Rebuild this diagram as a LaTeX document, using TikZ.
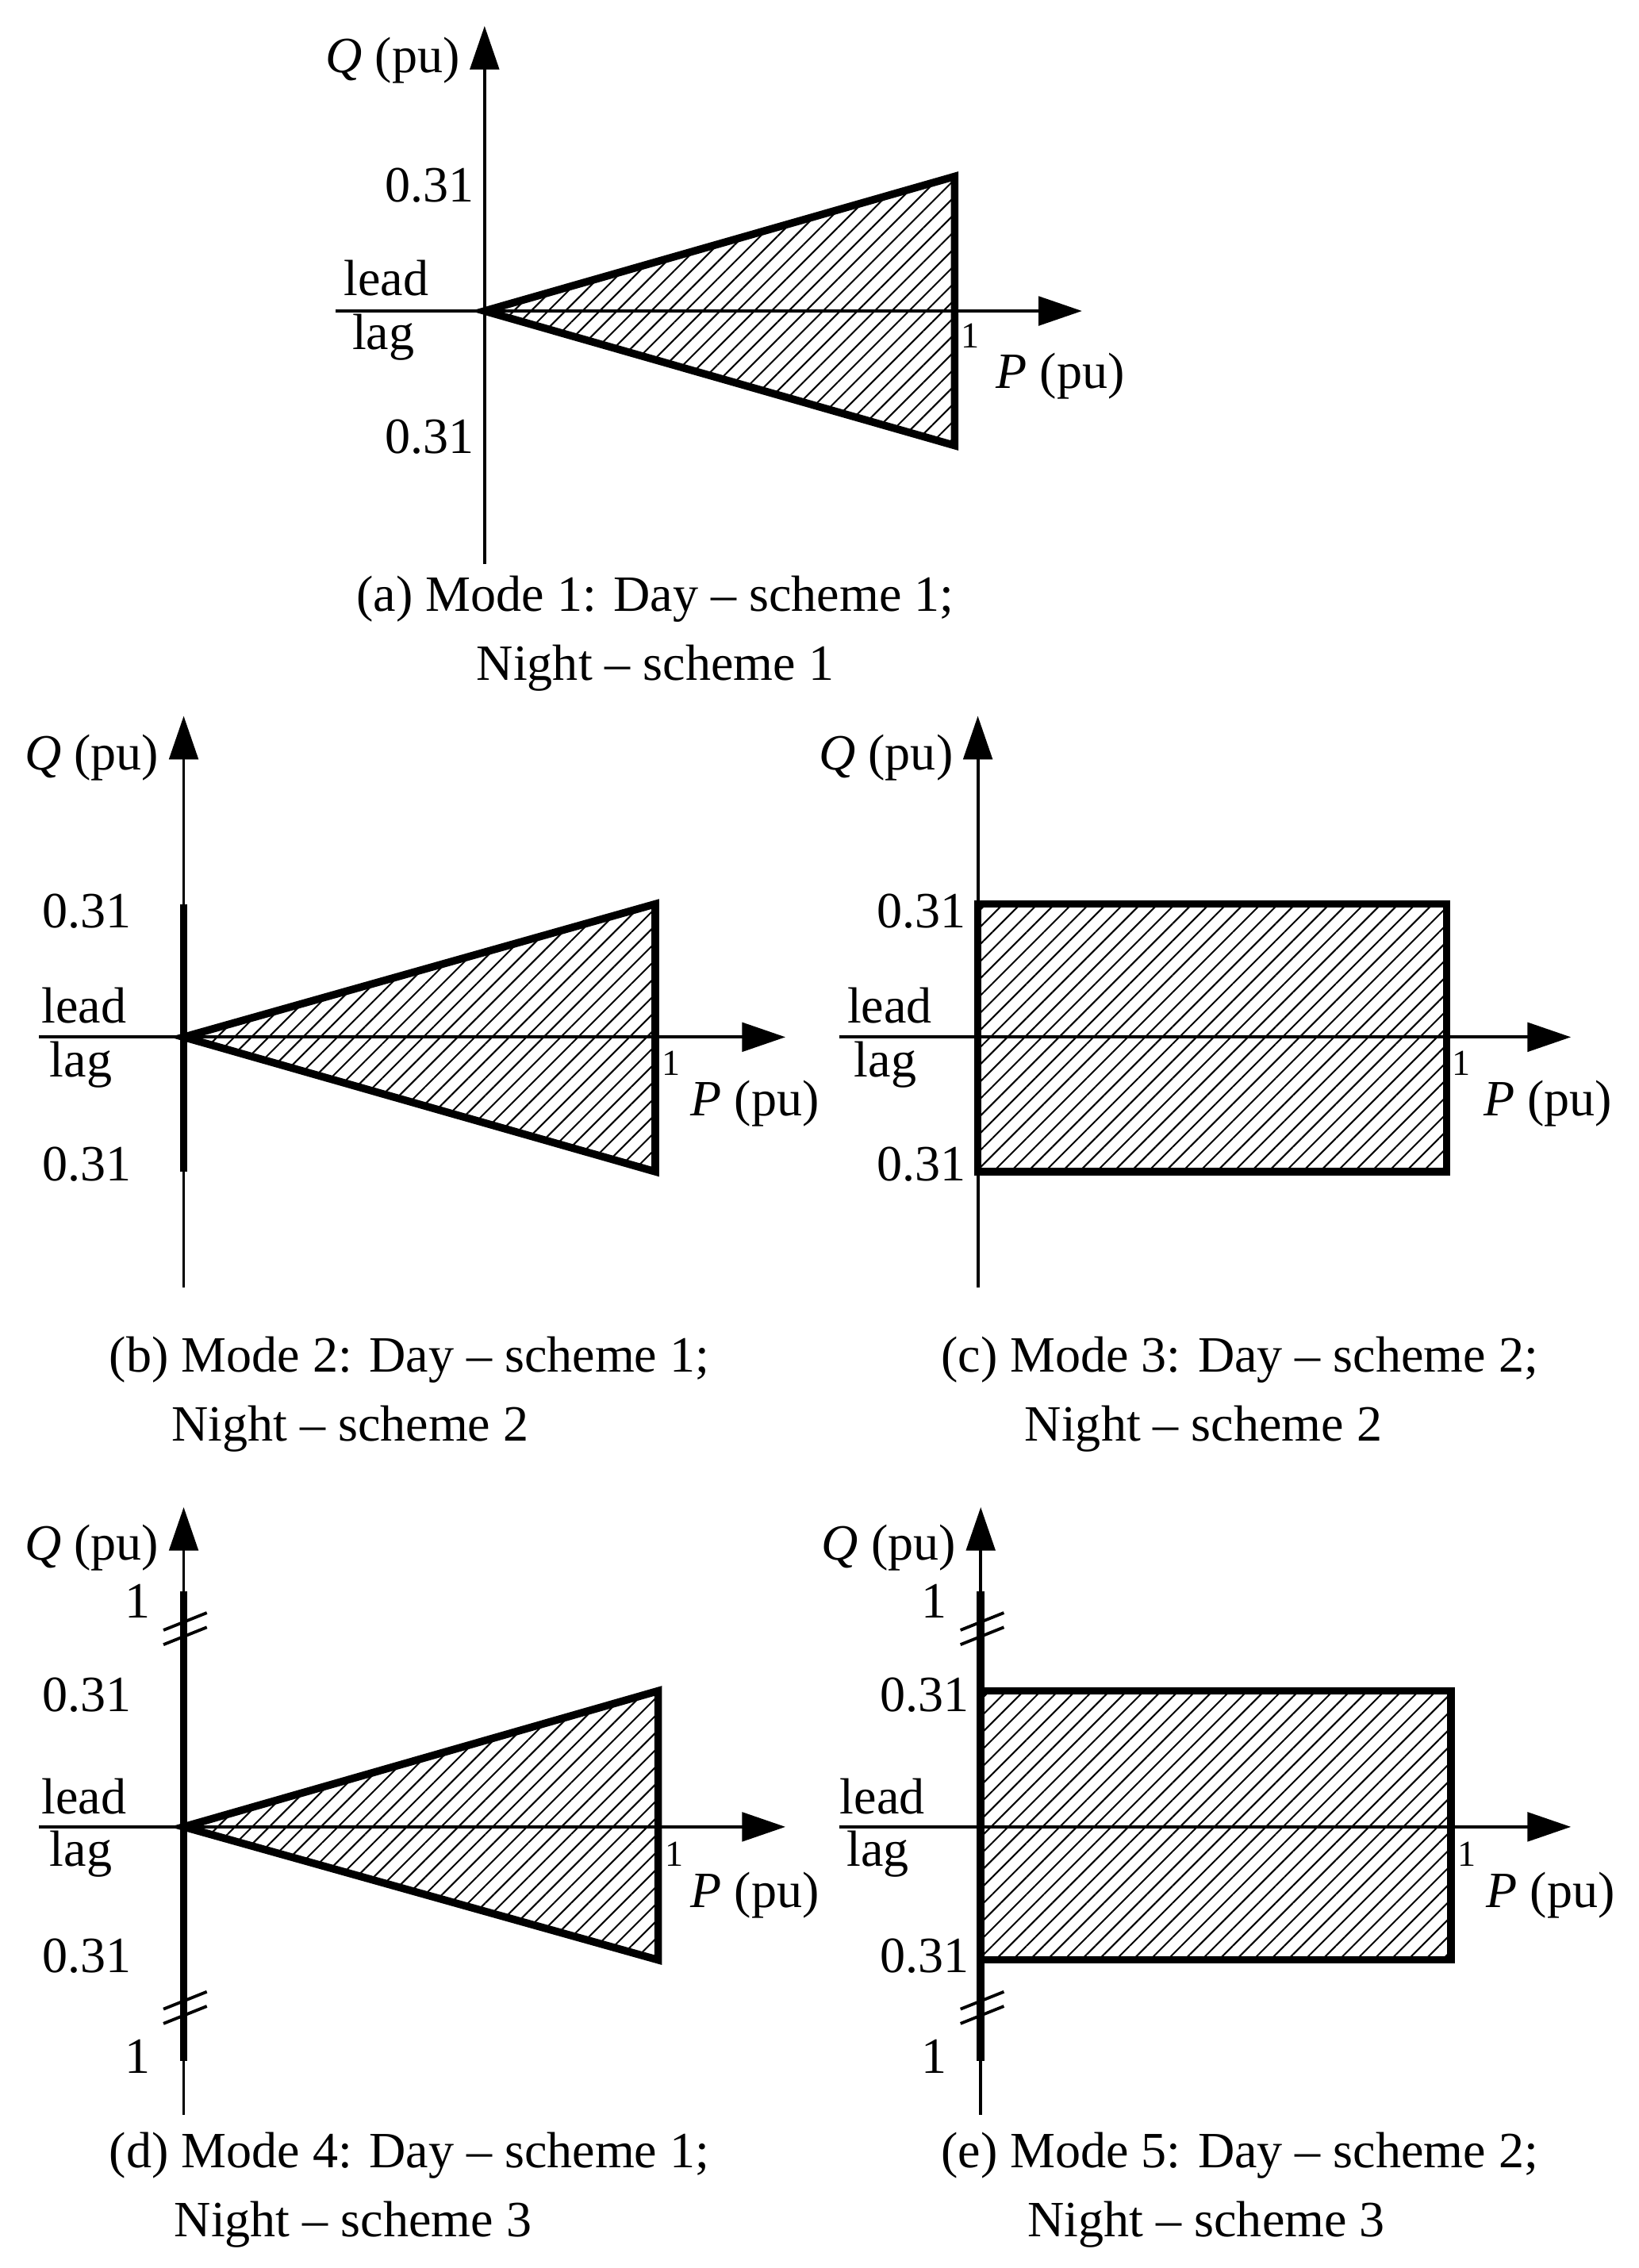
\documentclass[tikz,border=0pt]{standalone}
\usepackage{fontspec}
\setmainfont{Liberation Serif}
\usetikzlibrary{arrows.meta,patterns.meta}
\tikzset{
  ax/.style={line width=3pt,-{Triangle[length=1.5cm,width=1cm]}},
  axl/.style={line width=3pt},
  thick shape/.style={line width=7.5pt,line join=miter,pattern={Lines[angle=45,distance=0.42cm,line width=1.6pt]}},
  bold axis/.style={line width=7.5pt},
  lbl/.style={font=\fontsize{50}{60}\selectfont,inner sep=0pt},
  small/.style={font=\fontsize{36}{40}\selectfont,inner sep=0pt},
  brk/.style={line width=3pt}
}
\begin{document}
\begin{tikzpicture}[x=0.05cm,y=-0.05cm]
\useasboundingbox (0,0) rectangle (1133,1568);
% ---------- panel a
\coordinate (oa) at (335,215);
\coordinate (ya0) at (335,390); \coordinate (ya1) at (335,18);
\coordinate (xa0) at (232,215); \coordinate (xa1) at (748,215);
\draw[thick shape] (oa) -- (660,122) -- (660,308) -- cycle;
\draw[ax] (ya0) -- (ya1);
\draw[ax] (xa0) -- (xa1);
\node[lbl,anchor=east] (qa) at (318,42) {\textit{Q} (pu)};
\node[lbl] (a31u) at (297,128) {0.31};
\node[lbl] (a31d) at (297,302) {0.31};
\node[lbl] (alead) at (267,192) {lead};
\node[lbl] (alag) at (265,233) {lag};
\node[small] (a1) at (671,232) {1};
\node[lbl] (apu) at (733,260) {\textit{P} (pu)};
\node[lbl] (capa1) at (453,414) {(a) Mode 1: Day – scheme 1;};
\node[lbl] (capa2) at (453,462) {Night – scheme 1};
% ---------- panel b
\coordinate (ob) at (127,717);
\draw[thick shape] (ob) -- (453,625) -- (453,810) -- cycle;
\draw[bold axis] (127,625) -- (127,810);
\draw[ax] (127,890) -- (127,495);
\draw[ax] (27,717) -- (543,717);
\node[lbl,anchor=east] (qb) at (110,524) {\textit{Q} (pu)};
\node[lbl] (b31u) at (60,630) {0.31};
\node[lbl] (b31d) at (60,805) {0.31};
\node[lbl] (blead) at (58,695) {lead};
\node[lbl] (blag) at (56,736) {lag};
\node[small] (b1) at (464,735) {1};
\node[lbl] (bpu) at (522,763) {\textit{P} (pu)};
\node[lbl] (capb1) at (283,940) {(b) Mode 2: Day – scheme 1;};
\node[lbl] (capb2) at (242,988) {Night – scheme 2};
% ---------- panel c
\coordinate (oc) at (676,717);
\draw[thick shape] (676,625) rectangle (1000,810);
\draw[ax] (676,890) -- (676,495);
\draw[ax] (580,717) -- (1086,717);
\node[lbl,anchor=east] (qc) at (659,524) {\textit{Q} (pu)};
\node[lbl] (c31u) at (637,630) {0.31};
\node[lbl] (c31d) at (637,805) {0.31};
\node[lbl] (clead) at (615,695) {lead};
\node[lbl] (clag) at (612,736) {lag};
\node[small] (c1) at (1010,735) {1};
\node[lbl] (cpu) at (1070,763) {\textit{P} (pu)};
\node[lbl] (capc1) at (857,940) {(c) Mode 3: Day – scheme 2;};
\node[lbl] (capc2) at (832,988) {Night – scheme 2};
% ---------- panel d
\coordinate (od) at (127,1263);
\draw[thick shape] (od) -- (455,1169) -- (455,1355) -- cycle;
\draw[bold axis] (127,1100) -- (127,1425);
\draw[ax] (127,1462) -- (127,1042);
\draw[ax] (27,1263) -- (543,1263);
\foreach \yy in {1121,1131,1383,1393}{\draw[brk] (113,\yy+6) -- (143,\yy-6);}
\node[lbl,anchor=east] (qd) at (110,1070) {\textit{Q} (pu)};
\node[lbl] (d1u) at (95,1107) {1};
\node[lbl] (d31u) at (60,1172) {0.31};
\node[lbl] (dlead) at (58,1242) {lead};
\node[lbl] (dlag) at (56,1282) {lag};
\node[lbl] (d31d) at (60,1352) {0.31};
\node[lbl] (d1d) at (95,1422) {1};
\node[small] (d1) at (466,1282) {1};
\node[lbl] (dpu) at (522,1310) {\textit{P} (pu)};
\node[lbl] (capd1) at (283,1490) {(d) Mode 4: Day – scheme 1;};
\node[lbl] (capd2) at (244,1538) {Night – scheme 3};
% ---------- panel e
\coordinate (oe) at (678,1263);
\draw[thick shape] (678,1169) rectangle (1003,1355);
\draw[bold axis] (678,1100) -- (678,1425);
\draw[ax] (678,1462) -- (678,1042);
\draw[ax] (580,1263) -- (1086,1263);
\foreach \yy in {1121,1131,1383,1393}{\draw[brk] (664,\yy+6) -- (694,\yy-6);}
\node[lbl,anchor=east] (qe) at (661,1070) {\textit{Q} (pu)};
\node[lbl] (e1u) at (646,1107) {1};
\node[lbl] (e31u) at (639,1172) {0.31};
\node[lbl] (elead) at (610,1242) {lead};
\node[lbl] (elag) at (607,1282) {lag};
\node[lbl] (e31d) at (639,1352) {0.31};
\node[lbl] (e1d) at (646,1422) {1};
\node[small] (e1) at (1014,1282) {1};
\node[lbl] (epu) at (1072,1310) {\textit{P} (pu)};
\node[lbl] (cape1) at (857,1490) {(e) Mode 5: Day – scheme 2;};
\node[lbl] (cape2) at (834,1538) {Night – scheme 3};
\end{tikzpicture}
\end{document}
